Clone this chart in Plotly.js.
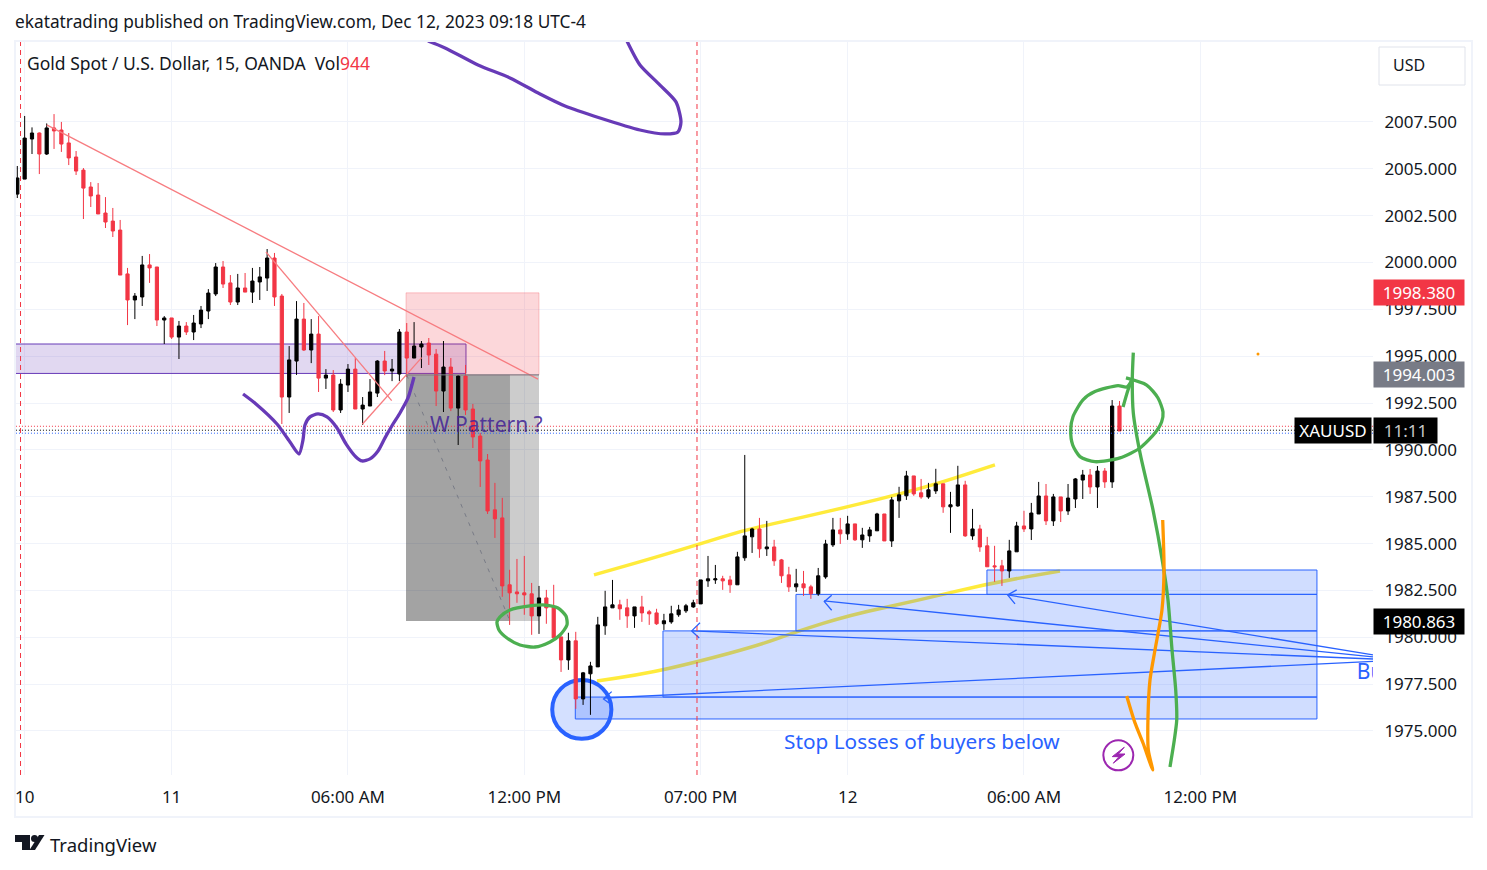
<!DOCTYPE html>
<html>
<head>
<meta charset="utf-8">
<script src="https://cdn.plot.ly/plotly-3.0.1.min.js"></script>
<style>html,body{margin:0;padding:0;background:#fff}#c{width:1487px;height:870px}</style>
</head>
<body>
<div id="c"></div>
<script>
// ---------- price data (XAUUSD 15m, one entry per bar) ----------
const open = [2003.65,2004.45,2006.59,2006.91,2005.79,2007.18,2007.07,2006.38,2005.63,2004.93,
2004.03,2003.60,2002.64,2002.21,2001.73,1999.39,1998.00,1998.16,1999.87,1999.76,
1996.93,1997.04,1996.02,1996.61,1996.29,1996.72,1997.41,1998.32,1999.76,1998.91,
1997.89,1998.64,1998.42,1998.96,1999.17,2000.24,1998.21,1992.82,1994.74,1996.98,
1995.33,1996.18,1993.83,1993.99,1992.13,1993.46,1994.31,1992.18,1992.34,1993.03,
1994.74,1994.21,1994.05,1996.29,1994.90,1995.49,1995.70,1995.11,1993.14,1994.42,
1992.23,1993.94,1992.18,1990.74,1989.46,1986.80,1986.37,1982.80,1982.42,1982.37,
1982.32,1981.14,1982.10,1981.62,1980.02,1978.79,1979.81,1976.71,1978.05,1978.42,
1980.61,1981.57,1981.73,1981.57,1981.14,1981.62,1981.36,1981.30,1980.72,1980.82,
1981.20,1981.41,1981.62,1981.78,1983.01,1983.06,1983.12,1983.06,1982.80,1984.24,
1985.36,1985.78,1984.72,1984.82,1984.13,1983.33,1982.69,1982.85,1982.69,1982.32,
1983.22,1984.93,1985.73,1985.52,1986.05,1985.20,1985.41,1985.68,1986.58,1985.14,
1987.28,1987.55,1988.61,1987.71,1987.49,1987.81,1988.19,1986.96,1987.01,1988.13,
1985.41,1985.78,1984.88,1983.81,1983.81,1983.54,1984.56,1985.94,1985.78,1986.58,
1987.54,1986.21,1987.49,1986.74,1987.38,1988.39,1988.66,1988.02,1988.87,1988.29,1992.34];
const high = [2005.15,2007.82,2007.21,2006.94,2007.42,2007.92,2007.50,2006.91,2005.95,2005.04,
2004.29,2004.24,2003.49,2002.91,2002.27,1999.71,1998.37,2000.35,2000.45,1999.76,
1997.14,1997.04,1996.88,1996.82,1997.20,1997.68,1998.58,1999.97,2000.08,1999.33,
1999.39,1999.44,1999.71,1999.76,2000.72,2000.51,1998.32,1995.54,1997.94,1997.84,
1996.98,1997.14,1994.31,1994.26,1993.78,1994.58,1994.90,1992.82,1993.78,1994.79,
1995.28,1994.85,1996.45,1996.77,1996.82,1995.81,1995.97,1995.38,1995.81,1994.90,
1993.99,1994.53,1992.45,1990.90,1989.78,1988.24,1987.44,1983.60,1984.18,1984.34,
1982.90,1982.74,1982.53,1982.80,1980.02,1980.24,1980.29,1978.15,1978.69,1981.09,
1982.48,1983.06,1982.00,1982.05,1981.62,1982.21,1981.46,1981.52,1981.25,1981.68,
1981.73,1981.78,1982.00,1983.06,1984.34,1983.86,1983.28,1983.28,1984.56,1989.73,
1985.84,1986.37,1986.21,1985.20,1984.18,1983.76,1983.65,1983.54,1982.80,1983.70,
1985.20,1986.37,1986.37,1986.48,1986.05,1985.84,1985.89,1986.64,1986.58,1987.49,
1988.03,1988.88,1988.61,1988.45,1988.24,1988.99,1988.19,1987.76,1989.15,1988.35,
1986.85,1986.00,1985.36,1984.88,1984.13,1985.20,1986.16,1986.75,1987.17,1988.29,
1988.18,1987.65,1987.49,1988.18,1988.50,1988.93,1988.98,1989.14,1989.03,1992.66,1992.61];
const low = [2003.44,2004.45,2005.79,2004.72,2005.74,2006.06,2005.90,2005.20,2004.67,2002.32,
2002.96,2002.59,2001.84,2001.36,1999.33,1996.66,1996.98,1997.68,1998.91,1996.61,
1995.65,1995.92,1994.85,1996.13,1995.86,1996.50,1996.98,1998.21,1998.64,1997.73,
1997.73,1998.42,1997.84,1998.00,1998.48,1997.68,1991.38,1991.97,1994.00,1995.28,
1994.63,1993.09,1993.25,1992.02,1991.97,1993.09,1992.18,1991.33,1992.34,1992.82,
1993.99,1993.67,1993.67,1993.89,1994.90,1994.37,1994.53,1992.34,1992.02,1992.07,
1990.26,1991.86,1990.10,1988.02,1986.58,1985.30,1982.16,1980.66,1981.84,1981.20,
1980.13,1980.18,1980.72,1979.97,1978.15,1978.26,1976.18,1976.39,1975.86,1978.42,
1980.13,1981.57,1980.93,1980.50,1980.50,1980.82,1980.66,1980.66,1980.39,1980.72,
1981.09,1981.30,1981.57,1981.78,1982.69,1982.85,1982.53,1982.37,1982.80,1984.08,
1984.50,1984.24,1984.34,1983.81,1982.90,1982.42,1982.42,1982.21,1982.05,1982.21,
1983.12,1984.82,1984.98,1985.20,1985.14,1984.77,1985.09,1985.68,1985.14,1984.82,
1986.37,1987.33,1987.55,1987.39,1987.39,1987.65,1986.64,1985.57,1986.96,1985.36,
1985.20,1984.56,1983.76,1982.96,1982.74,1983.17,1984.56,1985.62,1985.19,1986.58,
1985.99,1985.94,1986.15,1986.53,1986.90,1987.38,1987.65,1986.90,1987.97,1987.97,1991.01];
const close = [2004.51,2006.64,2006.91,2005.79,2007.18,2007.02,2006.32,2005.58,2004.88,2003.97,
2003.55,2002.59,2002.16,2001.68,1999.33,1998.00,1998.21,1999.87,1999.71,1996.93,
1997.04,1996.02,1996.61,1996.29,1996.77,1997.46,1998.37,1999.76,1998.85,1997.89,
1998.64,1998.42,1999.01,1999.23,2000.24,1998.16,1992.82,1994.80,1996.98,1995.33,
1996.18,1993.83,1993.99,1992.13,1993.51,1994.31,1992.18,1992.39,1993.09,1994.74,
1994.21,1994.31,1996.29,1994.90,1995.54,1995.65,1995.06,1993.14,1994.42,1992.23,
1993.94,1992.13,1990.69,1989.41,1986.74,1986.32,1982.74,1982.37,1982.32,1982.26,
1981.14,1982.10,1981.57,1979.97,1978.79,1979.81,1976.71,1978.10,1978.47,1980.66,
1981.62,1981.73,1981.52,1981.14,1981.62,1981.30,1981.25,1980.72,1980.88,1981.25,
1981.46,1981.68,1981.84,1983.06,1983.12,1983.12,1983.01,1982.80,1984.29,1985.41,
1985.78,1984.72,1984.82,1984.08,1983.28,1982.69,1982.85,1982.64,1982.32,1983.28,
1984.98,1985.73,1985.52,1986.05,1985.20,1985.46,1985.73,1986.58,1985.14,1987.33,
1987.60,1988.61,1987.65,1987.49,1987.87,1988.19,1986.96,1987.07,1988.13,1985.41,
1985.78,1984.82,1983.76,1983.76,1983.54,1984.61,1985.94,1985.78,1986.63,1987.54,
1986.21,1987.49,1986.74,1987.43,1988.45,1988.66,1988.02,1988.87,1988.29,1992.34,1991.01];

// ---------- axis labels ----------
const timeTickBars = [1,21,45,69,93,113,137,161];
const timeTickLabels = ['10','11','06:00 AM','12:00 PM','07:00 PM','12','06:00 AM','12:00 PM'];
const priceTicks = [1975,1977.5,1980,1982.5,1985,1987.5,1990,1992.5,1995,1997.5,2000,2002.5,2005,2007.5];

// ---------- levels ----------
const stopPrice = 1998.38, entryPrice = 1994.003, targetPrice = 1980.863;
const dottedLevels = [1991.26,1991.05,1990.89];
const lastPrice = 1991.05;
const sessionBars = [0.44,92.5];

// ---------- hand drawn strokes: [bar position], [price] ----------
const purpleTopX = [55.89,58.21,62.70,67.05,71.14,74.54,79.30,84.74,88.15,89.91,90.32,89.64,87.46,84.74,82.97];
const purpleTopY = [2011.82,2011.45,2010.54,2009.85,2008.99,2008.35,2007.71,2007.07,2006.86,2006.96,2007.50,2008.57,2009.47,2010.54,2011.82];
const purpleWX = [30.72,32.48,35.34,37.11,38.34,38.88,39.15,39.83,40.92,42.15,43.51,44.73,46.09,46.91,48.00,49.09,50.04,51.13,52.08,53.17,53.99];
const purpleWY = [1992.98,1992.45,1991.38,1990.42,1989.78,1990.53,1991.33,1991.76,1991.92,1991.76,1991.17,1990.32,1989.62,1989.41,1989.52,1989.94,1990.64,1991.38,1991.97,1992.77,1993.89];
const greenSmallX = [65.69,67.05,69.77,71.81,73.58,74.67,74.81,73.86,72.50,70.45,68.41,66.64,65.55,65.28,65.69];
const greenSmallY = [1981.09,1981.46,1981.67,1981.72,1981.56,1981.13,1980.66,1980.12,1979.75,1979.48,1979.59,1979.96,1980.39,1980.82,1981.09];
const greenLongX = [151.88,151.74,151.88,152.79,154.56,155.88,156.60,157.15,157.65,157.79,157.46,156.87];
const greenLongY = [1995.19,1993.73,1991.97,1989.84,1986.80,1983.97,1981.99,1979.32,1977.19,1975.59,1974.52,1973.08];
const greenLoopX = [150.48,151.16,151.70,null,150.88,153.70,155.24,155.92,155.74,154.83,152.79,150.07,146.66,144.62,143.63,143.36,143.67,145.03,146.66,149.80,150.98,151.70];
const greenLoopY = [1992.29,1993.20,1993.73,null,1993.84,1993.46,1992.77,1992.02,1991.50,1990.90,1990.10,1989.57,1989.37,1989.64,1990.26,1991.06,1991.77,1992.67,1993.11,1993.43,1993.36,1993.73];
const orangeX = [155.88,156.06,155.78,154.83,154.15,153.88,153.92,154.52,153.20,152.11,150.98];
const orangeY = [1986.26,1983.59,1981.46,1979.32,1977.72,1975.77,1973.99,1972.92,1974.36,1975.43,1976.87];
const yellowUpperX = [78.48,84.74,92.50,99.03,106.52,114.68,120.13,125.57,133.05];
const yellowUpperY = [1983.33,1984.02,1984.93,1985.73,1986.37,1987.12,1987.65,1988.24,1989.20];
const yellowLowerX = [78.89,84.74,92.50,101.07,105.97,113.32,122.85,131.97,141.90];
const yellowLowerY = [1977.67,1977.99,1978.68,1979.59,1980.29,1981.19,1981.99,1982.85,1983.54];
const boltX = [150.65,149.02,149.93,149.16,150.75,149.84];
const boltY = [1974.13,1973.63,1973.63,1973.28,1973.77,1973.77];

// ---------- zones and lines ----------
const blueZoneStart = [75.94,87.87,105.97,131.96];
const blueZoneEnd = 176.87;
const blueZoneLow = [1975.64,1976.81,1980.34,1982.29];
const blueZoneHigh = [1976.81,1980.34,1982.29,1983.59];
const blueRayTipX = [79.84,91.82,109.78,134.78];
const blueRayTipY = [1976.76,1980.34,1981.94,1982.26];
const blueRayEndX = 184.5;
const blueRayEndY = [1978.71,1978.84,1978.95,1979.06];
const arrowTipX = [79.78,91.78,109.83,134.78];
const arrowTipY = [1976.71,1980.34,1981.90,1982.26];
const arrowArmAX = [80.89,92.91,110.83,136.01];
const arrowArmAY = [1977.10,1980.77,1982.24,1982.53];
const arrowArmBX = [80.52,92.81,110.83,135.78];
const arrowArmBY = [1976.49,1979.96,1981.44,1981.78];
const trendX = [[4.00,70.86],[33.85,50.95],[46.95,55.03]];
const trendY = [[2007.34,1993.78],[2000.56,1992.63],[1991.37,1994.92]];

// ---------- colours ----------
const RED='#f23645', BLUE='#2962ff', PURPLE='#673ab7', GREEN='#4caf50', ORANGE='#ff9800', YELLOW='#ffeb3b';
const FONT='"Noto Sans", sans-serif', INK='#131722';

// page furniture: pixel to paper helpers (only for non-data chrome)
const px = x => (x-15)/1358, py = y => (775-y)/734;
const poly = pts => 'M'+pts.map(p=>px(p[0])+','+py(p[1])).join('L')+'Z';
const curve = (xs,ys) => 'M'+xs.map((x,i)=>x+','+ys[i]).join('L');
const smooth = (xs,ys) => {
  let d='M'+xs[0]+','+ys[0];
  for(let i=1;i<xs.length-1;i++){
    const mx=(xs[i]+xs[i+1])/2,my=(ys[i]+ys[i+1])/2;
    d+='Q'+xs[i]+','+ys[i]+' '+mx+','+my;
  }
  const n=xs.length-1;
  return d+'L'+xs[n]+','+ys[n];
};

const bars = open.map((_,i)=>i);
const traces = [{
  type:'candlestick', x:bars, open:open, high:high, low:low, close:close,
  increasing:{line:{color:'#000000',width:1},fillcolor:'#000000'},
  decreasing:{line:{color:RED,width:1},fillcolor:RED},
  whiskerwidth:0, hoverinfo:'skip', showlegend:false
}];
const line = (x,y,color,width,dash) => traces.push({type:'scatter',mode:'lines',x:x,y:y,
  line:{color:color,width:width,dash:dash||'solid',shape:'spline',smoothing:0.7},hoverinfo:'skip',showlegend:false,connectgaps:false});
const straight = (x,y,color,width,dash) => traces.push({type:'scatter',mode:'lines',x:x,y:y,
  line:{color:color,width:width,dash:dash||'solid'},hoverinfo:'skip',showlegend:false});

dottedLevels.forEach((v,i)=>straight([-1,193],[v,v],[RED,'#000000',BLUE][i],1,'1px,2px'));
trendX.forEach((x,i)=>straight(x,trendY[i],'#f77c80',1.3));
straight([52.99,67.05],[entryPrice,targetPrice],'#787b86',1,'4px,6px');
straight([52.9,71.0],[entryPrice,entryPrice],'#787b86',1);
blueRayTipX.forEach((x,i)=>straight([x,blueRayEndX],[blueRayTipY[i],blueRayEndY[i]],BLUE,1.3));
arrowTipX.forEach((x,i)=>straight([arrowArmAX[i],x,arrowArmBX[i]],[arrowArmAY[i],arrowTipY[i],arrowArmBY[i]],BLUE,1.3));
line(purpleTopX,purpleTopY,PURPLE,3.3);
line(purpleWX,purpleWY,PURPLE,3.3);
line(greenSmallX,greenSmallY,GREEN,3.3);
line(greenLongX,greenLongY,GREEN,3.3);
line(greenLoopX,greenLoopY,GREEN,3.3);
line(orangeX,orangeY,ORANGE,3.3);
traces.push({type:'scatter',mode:'markers',x:[168.85],y:[1995.12],marker:{color:ORANGE,size:3},hoverinfo:'skip',showlegend:false});
traces.push({type:'scatter',mode:'text',x:[182.3],y:[1978.04],text:['Buy'],textposition:'middle right',
  textfont:{family:FONT,size:21,color:BLUE},hoverinfo:'skip',showlegend:false,cliponaxis:true});

const shapes = [];
shapes.push({type:'path',layer:'between',path:smooth(yellowUpperX,yellowUpperY),line:{color:YELLOW,width:3.5}});
shapes.push({type:'path',layer:'between',path:smooth(yellowLowerX,yellowLowerY),line:{color:YELLOW,width:3.5}});
blueZoneStart.forEach((x,i)=>shapes.push({type:'rect',layer:'between',x0:x,x1:blueZoneEnd,y0:blueZoneLow[i],y1:blueZoneHigh[i],
  fillcolor:'rgba(41,98,255,0.22)',line:{color:BLUE,width:1}}));
shapes.push({type:'rect',layer:'between',x0:-1,x1:61.06,y0:1994.08,y1:1995.65,fillcolor:'rgba(103,58,183,0.2)',line:{color:PURPLE,width:1}});
shapes.push({type:'rect',layer:'between',x0:52.9,x1:71.0,y0:entryPrice,y1:stopPrice,fillcolor:'rgba(242,54,69,0.2)',line:{color:'rgba(242,54,69,0.25)',width:1}});
shapes.push({type:'rect',layer:'between',x0:52.9,x1:71.0,y0:targetPrice,y1:entryPrice,fillcolor:'rgba(0,0,0,0.2)',line:{width:0}});
shapes.push({type:'rect',layer:'between',x0:52.9,x1:67.05,y0:targetPrice,y1:entryPrice,fillcolor:'rgba(0,0,0,0.2)',line:{width:0}});
shapes.push({type:'circle',layer:'between',x0:72.8,x1:80.85,y0:1974.58,y1:1977.72,fillcolor:'rgba(41,98,255,0.2)',line:{color:BLUE,width:4}});
sessionBars.forEach(x=>shapes.push({type:'line',layer:'above',x0:x,x1:x,y0:0,y1:1,yref:'paper',line:{color:RED,width:1,dash:'5px,4px'}}));
shapes.push({type:'circle',layer:'above',x0:147.80,x1:151.88,y0:1972.90,y1:1974.50,line:{color:'#9c27b0',width:2}});
shapes.push({type:'path',layer:'above',path:curve(boltX,boltY)+'Z',fillcolor:'#9c27b0',line:{color:'#9c27b0',width:1}});
// frame, currency box, logo
shapes.push({type:'rect',xref:'paper',yref:'paper',x0:px(15),x1:px(1472),y0:py(817),y1:py(41),line:{color:'#f0f3fa',width:2}});
shapes.push({type:'rect',xref:'paper',yref:'paper',x0:px(1379),x1:px(1465),y0:py(85),y1:py(47),line:{color:'#e0e3eb',width:1}});
shapes.push({type:'path',xref:'paper',yref:'paper',fillcolor:INK,line:{width:0},path:poly([[15,835],[30,835],[30,850],[22,850],[22,842],[15,842]])});
shapes.push({type:'path',xref:'paper',yref:'paper',fillcolor:INK,line:{width:0},path:poly([[39,835],[44.5,835],[35,850],[29.5,850]])});
shapes.push({type:'circle',xref:'paper',yref:'paper',fillcolor:INK,line:{width:0},x0:px(31),x1:px(38),y0:py(842),y1:py(835)});

const chromeText = (x,y,text,size,color,extra) => Object.assign({xref:'paper',yref:'paper',x:px(x),y:py(y),text:text,showarrow:false,
  xanchor:'left',yanchor:'middle',font:{family:FONT,size:size,color:color},borderpad:0},extra||{});
const priceTag = (price,text,bg) => ({xref:'paper',yref:'y',x:1,y:price,text:text,showarrow:false,xanchor:'left',yanchor:'middle',
  width:90,height:25,bgcolor:bg,align:'center',borderpad:0,font:{family:FONT,size:17,color:'#ffffff'}});

const annotations = [
  chromeText(14,22,'ekatatrading published on TradingView.com, Dec 12, 2023 09:18 UTC-4',17.3,INK),
  chromeText(26,63,'Gold Spot / U.S. Dollar, 15, OANDA  Vol<span style="color:#f23645">944</span>',17.5,INK),
  chromeText(1392,65,'USD',16,INK),
  chromeText(49,844,'TradingView',18.5,INK),
  {x:63.92,y:1991.38,text:'W Pattern ?',showarrow:false,font:{family:FONT,size:21,color:'rgba(70,40,150,0.9)'}},
  {x:123.12,y:1974.47,text:'Stop Losses of buyers below',showarrow:false,font:{family:FONT,size:20.8,color:BLUE}},
  priceTag(stopPrice,'1998.380',RED),
  priceTag(entryPrice,'1994.003','#787b86'),
  priceTag(targetPrice,'1980.863','#000000'),
  {xref:'paper',yref:'y',x:1,xshift:-1,y:lastPrice,text:'XAUUSD',showarrow:false,xanchor:'right',yanchor:'middle',width:76,height:25,
   bgcolor:'#000000',align:'center',borderpad:0,font:{family:FONT,size:17,color:'#ffffff'}},
  {xref:'paper',yref:'y',x:1,y:lastPrice,text:'11:11',showarrow:false,xanchor:'left',yanchor:'middle',width:63,height:25,
   bgcolor:'#000000',align:'center',borderpad:0,font:{family:FONT,size:17,color:'#c8c8c8'}}
];

const layout = {
  width:1487,height:870,
  margin:{l:15,r:114,t:41,b:95,pad:0},
  paper_bgcolor:'#ffffff',plot_bgcolor:'#ffffff',
  showlegend:false,
  boxgap:0.38,
  xaxis:{type:'linear',range:[-0.313,184.5],tickmode:'array',tickvals:timeTickBars,ticktext:timeTickLabels,
    showgrid:true,gridcolor:'#f0f3fa',gridwidth:1,zeroline:false,showline:false,ticks:'outside',ticklen:7,tickcolor:'rgba(0,0,0,0)',
    tickfont:{family:FONT,size:17,color:INK},rangeslider:{visible:false},fixedrange:true},
  yaxis:{type:'linear',side:'right',range:[1972.65,2011.82],tickmode:'array',tickvals:priceTicks,tickformat:'.3f',
    showgrid:true,gridcolor:'#f0f3fa',gridwidth:1,zeroline:false,showline:false,ticks:'outside',ticklen:7,tickcolor:'rgba(0,0,0,0)',
    tickfont:{family:FONT,size:17,color:INK},fixedrange:true},
  shapes:shapes,annotations:annotations
};
Plotly.newPlot('c',traces,layout,{displayModeBar:false,staticPlot:true});
</script>
</body>
</html>
